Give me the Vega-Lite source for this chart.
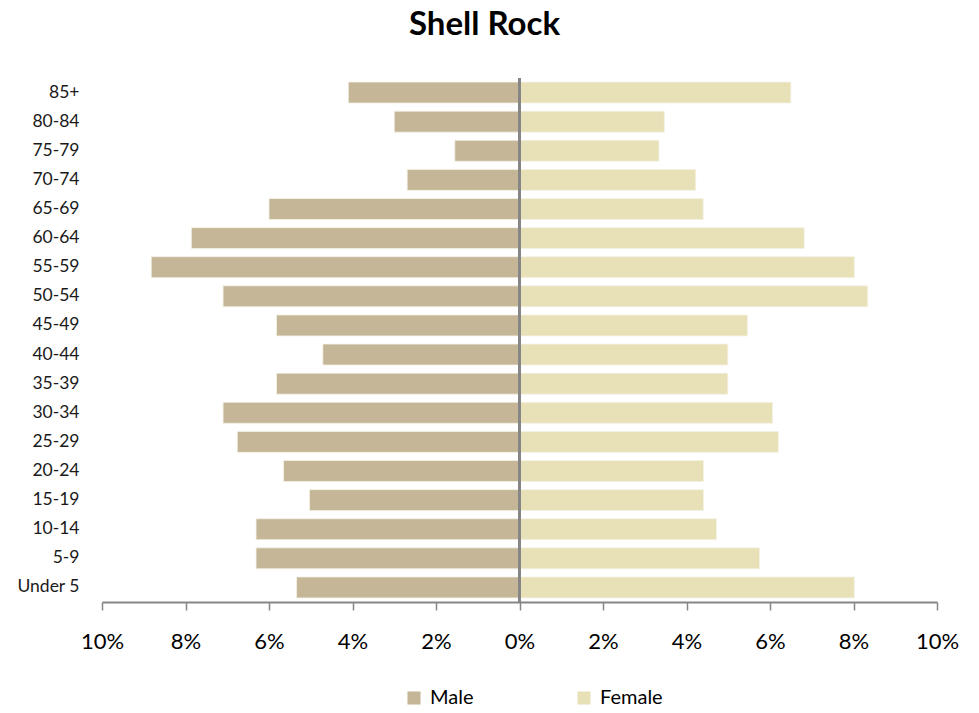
{
  "$schema": "https://vega.github.io/schema/vega-lite/v6.json",
  "autosize": "none",
  "width": 835,
  "height": 524,
  "padding": {"left": 102, "top": 78, "right": 42, "bottom": 111},
  "background": "white",
  "title": {"text": "Shell Rock", "fontSize": 33, "font": "Lato", "fontWeight": "bold", "color": "#000000", "anchor": "middle", "dx": -35, "offset": 35},
  "config": {"view": {"stroke": null}, "font": "Lato"},
  "data": {"values": [
    {"age": "85+", "sex": "Male", "pct": -4.10},
    {"age": "80-84", "sex": "Male", "pct": -3.00},
    {"age": "75-79", "sex": "Male", "pct": -1.55},
    {"age": "70-74", "sex": "Male", "pct": -2.69},
    {"age": "65-69", "sex": "Male", "pct": -6.00},
    {"age": "60-64", "sex": "Male", "pct": -7.86},
    {"age": "55-59", "sex": "Male", "pct": -8.82},
    {"age": "50-54", "sex": "Male", "pct": -7.10},
    {"age": "45-49", "sex": "Male", "pct": -5.82},
    {"age": "40-44", "sex": "Male", "pct": -4.71},
    {"age": "35-39", "sex": "Male", "pct": -5.82},
    {"age": "30-34", "sex": "Male", "pct": -7.10},
    {"age": "25-29", "sex": "Male", "pct": -6.76},
    {"age": "20-24", "sex": "Male", "pct": -5.65},
    {"age": "15-19", "sex": "Male", "pct": -5.03},
    {"age": "10-14", "sex": "Male", "pct": -6.31},
    {"age": "5-9", "sex": "Male", "pct": -6.31},
    {"age": "Under 5", "sex": "Male", "pct": -5.34},
    {"age": "85+", "sex": "Female", "pct": 6.50},
    {"age": "80-84", "sex": "Female", "pct": 3.47},
    {"age": "75-79", "sex": "Female", "pct": 3.34},
    {"age": "70-74", "sex": "Female", "pct": 4.22},
    {"age": "65-69", "sex": "Female", "pct": 4.40},
    {"age": "60-64", "sex": "Female", "pct": 6.82},
    {"age": "55-59", "sex": "Female", "pct": 8.02},
    {"age": "50-54", "sex": "Female", "pct": 8.34},
    {"age": "45-49", "sex": "Female", "pct": 5.46},
    {"age": "40-44", "sex": "Female", "pct": 4.99},
    {"age": "35-39", "sex": "Female", "pct": 4.99},
    {"age": "30-34", "sex": "Female", "pct": 6.06},
    {"age": "25-29", "sex": "Female", "pct": 6.20},
    {"age": "20-24", "sex": "Female", "pct": 4.41},
    {"age": "15-19", "sex": "Female", "pct": 4.41},
    {"age": "10-14", "sex": "Female", "pct": 4.72},
    {"age": "5-9", "sex": "Female", "pct": 5.75},
    {"age": "Under 5", "sex": "Female", "pct": 8.02}
  ]},
  "layer": [
    {
      "mark": {"type": "bar", "stroke": "#f4f1e6", "strokeWidth": 0.8},
      "encoding": {
        "y": {
          "field": "age", "type": "nominal",
          "sort": ["85+", "80-84", "75-79", "70-74", "65-69", "60-64", "55-59", "50-54", "45-49", "40-44", "35-39", "30-34", "25-29", "20-24", "15-19", "10-14", "5-9", "Under 5"],
          "scale": {"paddingInner": 0.28, "paddingOuter": 0.14},
          "axis": {"title": null, "domain": false, "ticks": false, "labelPadding": 23, "labelFontSize": 17.5, "labelColor": "#1a1a1a", "labelFont": "Lato"}
        },
        "x": {
          "field": "pct", "type": "quantitative",
          "scale": {"domain": [-10, 10], "nice": false},
          "axis": {"title": null, "values": [-10, -8, -6, -4, -2, 0, 2, 4, 6, 8, 10], "labelExpr": "abs(datum.value) + '%'", "labelFlush": false, "labelOverlap": false, "grid": false, "domainColor": "#868686", "domainWidth": 2, "tickColor": "#868686", "tickWidth": 1.5, "tickSize": 8, "labelPadding": 21, "labelFontSize": 22, "labelColor": "#000000", "labelFont": "Lato"}
        },
        "color": {
          "field": "sex", "type": "nominal",
          "scale": {"domain": ["Male", "Female"], "range": ["#c4b696", "#e8e1b7"]},
          "legend": {"title": null, "orient": "none", "legendX": 302, "legendY": 610, "direction": "horizontal", "symbolType": "square", "symbolSize": 170, "symbolStrokeWidth": 0, "labelFontSize": 20, "labelFont": "Lato", "labelColor": "#000000", "columnPadding": 100, "labelOffset": 6}
        }
      }
    },
    {
      "mark": {"type": "rule", "color": "#868686", "strokeWidth": 2},
      "encoding": {"x": {"datum": 0}}
    }
  ]
}
